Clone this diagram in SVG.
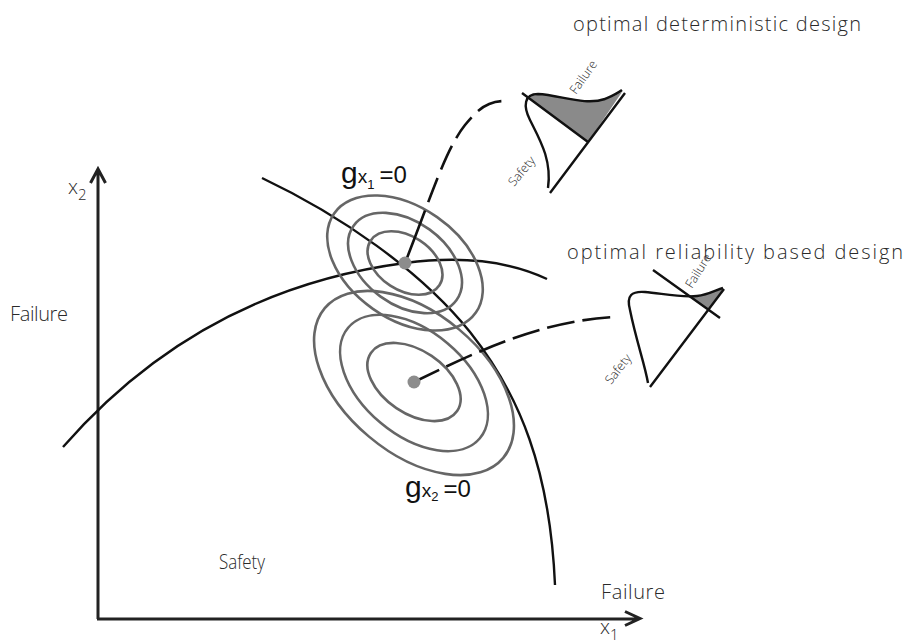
<svg xmlns="http://www.w3.org/2000/svg" width="904" height="643" viewBox="0 0 904 643">
<defs>
<style>
.lbl{font-family:"Open Sans","Liberation Sans",sans-serif;font-weight:300;font-size:20px;fill:#2a2a2a}
.small{font-family:"Open Sans","Liberation Sans",sans-serif;font-weight:300;font-size:12.5px;fill:#2a2a2a}
.g{font-family:"Liberation Sans",Arial,sans-serif;fill:#111}
.curve{fill:none;stroke:#111;stroke-width:2.4}
.axis{fill:none;stroke:#222;stroke-width:3}
.ell{fill:none;stroke:#666;stroke-width:2.6}
.dot{fill:#8c8c8c}
.dash{fill:none;stroke:#111;stroke-width:2.6}
.pdf{fill:none;stroke:#111;stroke-width:2.4}
.shade{fill:#8a8a8a;stroke:none}
</style>
</defs>
<rect width="904" height="643" fill="#fff"/>

<g id="axes">
<path class="axis" d="M98,619 V170 M90.5,183 L98,169 L105.5,183"/>
<path class="axis" d="M97,619 H639 M625,611.5 L640,618.5 L625,625.5"/>
<text class="lbl" x="68" y="194">x<tspan font-size="15" dy="6">2</tspan></text>
<text class="lbl" x="600" y="634">x<tspan font-size="15" dy="6">1</tspan></text>
</g>

<g id="limit-states">
<path class="curve" d="M63,447 Q200,290 405,263 Q490,252 547,279"/>
<path class="curve" d="M262,178 C340,215 420,270 470,332 C520,395 550,470 555,585"/>
</g>

<g id="ellipses-upper">
<ellipse class="ell" cx="405" cy="263" rx="41" ry="27" transform="rotate(33 405 263)"/>
<ellipse class="ell" cx="405" cy="263" rx="63.5" ry="41.5" transform="rotate(36 405 263)"/>
<ellipse class="ell" cx="405" cy="263" rx="86.5" ry="56" transform="rotate(35 405 263)"/>
</g>
<g id="ellipses-lower">
<ellipse class="ell" cx="414" cy="382" rx="52" ry="31.5" transform="rotate(34 414 382)"/>
<ellipse class="ell" cx="414" cy="383" rx="86" ry="52" transform="rotate(40 414 383)"/>
<ellipse class="ell" cx="414" cy="383" rx="116.5" ry="70" transform="rotate(40 414 383)"/>
</g>

<g id="connectors">
<path class="dash" d="M405,263 C430,200 445,150 465,125 S495,101 510,101" stroke-dasharray="56 9 26 9 26 9 26 9 26 9 40"/>
<path class="dash" d="M414,382 C470,355 540,320 616,317" stroke-dasharray="28 8"/>
</g>

<g id="design-points">
<circle class="dot" cx="405" cy="263" r="6.5"/>
<circle class="dot" cx="414" cy="382" r="6.5"/>
</g>

<g id="pdf-deterministic">
<path class="shade" d="M529,98 C540,92 552,95 567,98 C585,101 600,104 622,92 L588,142 Z"/>
<path class="pdf" d="M548,188 C552,160 540,140 530,120 C523,106 524,94 538,94 C560,95 585,106 605,99 C612,96 617,94 622,90"/>
<path class="pdf" d="M522,93 L588,142 M550,193 L625,93"/>
<text class="small" transform="translate(576,95) rotate(-55)">Failure</text>
<text class="small" transform="translate(514,187) rotate(-50)">Safety</text>
</g>

<g id="pdf-reliability">
<path class="shade" d="M690,296.5 C700,297 710,293 723,289 L708,310 Z"/>
<path class="pdf" d="M648,383 C645,365 636,340 630,310 C626,295 632,291 645,292 C660,293 680,298 697,296 C708,295 716,290 723,288"/>
<path class="pdf" d="M653,270 L720,318 M650,387 L724,289"/>
<text class="small" transform="translate(692,289) rotate(-58)">Failure</text>
<text class="small" transform="translate(611,385) rotate(-52)">Safety</text>
</g>

<g id="labels">
<text class="lbl" x="573" y="31" textLength="288" lengthAdjust="spacing">optimal deterministic design</text>
<text class="lbl" x="567" y="259" textLength="336" lengthAdjust="spacing">optimal reliability based design</text>
<text class="lbl" x="10" y="321" textLength="58" lengthAdjust="spacing">Failure</text>
<text class="lbl" x="219" y="569" textLength="46" lengthAdjust="spacingAndGlyphs">Safety</text>
<text class="lbl" x="601" y="599" textLength="64" lengthAdjust="spacing">Failure</text>
<text class="g" x="341" y="183" font-size="30">g<tspan font-size="19">x</tspan><tspan font-size="13" dy="6">1</tspan><tspan font-size="24" dy="-6" dx="5">=0</tspan></text>
<text class="g" x="405" y="497" font-size="30">g<tspan font-size="19">x</tspan><tspan font-size="13" dy="4">2</tspan><tspan font-size="24" dy="-4" dx="5">=0</tspan></text>
</g>
</svg>
